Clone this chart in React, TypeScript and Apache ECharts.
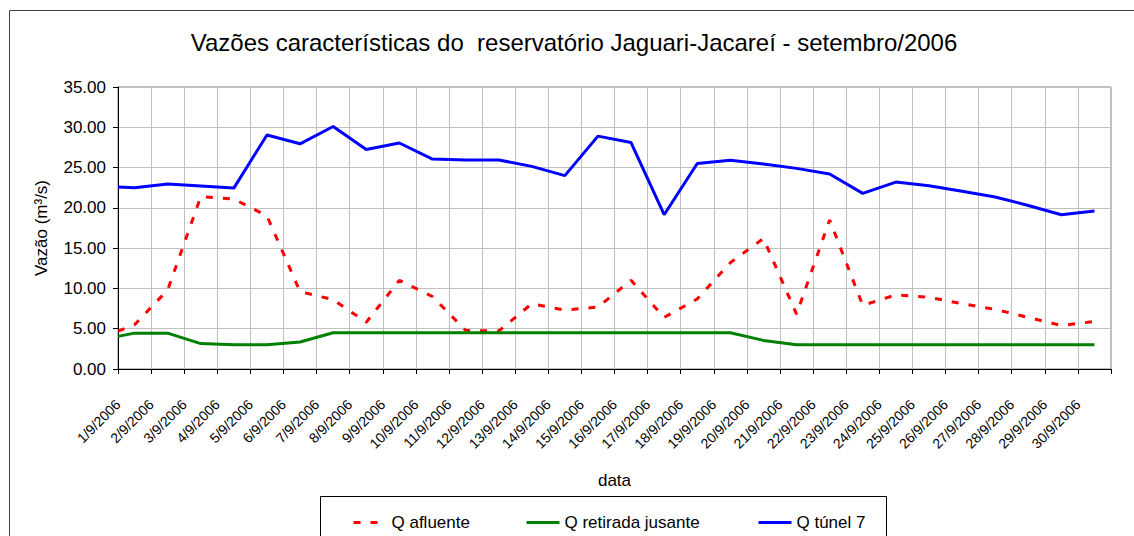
import React, { useEffect, useRef } from "react";
import * as echarts from "echarts";

const titleText = "Vazões características do  reservatório Jaguari-Jacareí - setembro/2006";
const dateLabels = [
  "1/9/2006", "2/9/2006", "3/9/2006", "4/9/2006", "5/9/2006", "6/9/2006", "7/9/2006", "8/9/2006",
  "9/9/2006", "10/9/2006", "11/9/2006", "12/9/2006", "13/9/2006", "14/9/2006", "15/9/2006",
  "16/9/2006", "17/9/2006", "18/9/2006", "19/9/2006", "20/9/2006", "21/9/2006", "22/9/2006",
  "23/9/2006", "24/9/2006", "25/9/2006", "26/9/2006", "27/9/2006", "28/9/2006", "29/9/2006",
  "30/9/2006",
];
// sample times in days from 1/9/2006 00:00
const sampleDay = [
  0, 0.5, 1.5, 2.5, 3.5, 4.5, 5.5, 6.5, 7.5, 8.5, 9.5, 10.5, 11.5, 12.5, 13.5, 14.5,
  15.5, 16.5, 17.5, 18.5, 19.5, 20.5, 21.5, 22.5, 23.5, 24.5, 25.5, 26.5, 27.5, 28.5, 29.5,
];
const qAfluente = [
  4.7, 5.5, 9.8, 21.4, 21.1, 19.0, 9.6, 8.6, 5.8, 11.0, 9.0, 4.8, 4.7, 8.1, 7.3, 7.7,
  11.0, 6.4, 8.7, 13.2, 16.2, 6.8, 18.5, 7.9, 9.2, 8.9, 8.1, 7.4, 6.4, 5.4, 5.9,
];
const qRetirada = [
  4.05, 4.45, 4.45, 3.15, 3.0, 3.0, 3.35, 4.5, 4.5, 4.5, 4.5, 4.5, 4.5, 4.5, 4.5, 4.5,
  4.5, 4.5, 4.5, 4.5, 3.55, 3.0, 3.0, 3.0, 3.0, 3.0, 3.0, 3.0, 3.0, 3.0, 3.0,
];
const qTunel = [
  22.6, 22.5, 22.95, 22.7, 22.45, 29.05, 27.95, 30.1, 27.25, 28.05, 26.05, 25.95, 25.95,
  25.15, 24.0, 28.9, 28.1, 19.15, 25.5, 25.9, 25.45, 24.9, 24.2, 21.8, 23.2, 22.75, 22.05,
  21.35, 20.3, 19.15, 19.6,
];
const seriesNames = ["Q afluente", "Q retirada jusante", "Q túnel 7"];
const seriesColors = ["#FF0000", "#008000", "#0000FF"];

const FONT = "'Liberation Sans', Arial, sans-serif";

export default function App() {
  const ref = useRef<HTMLDivElement>(null);
  useEffect(() => {
    if (!ref.current) return;
    const chart = echarts.init(ref.current, null, { renderer: "svg" });
    const values = [qAfluente, qRetirada, qTunel];
    const legendLefts = [347, 520, 752];
    chart.setOption({
      animation: false,
      textStyle: { fontFamily: FONT, color: "#000" },
      graphic: [
        {
          type: "rect",
          shape: { x: 9.5, y: 10.5, width: 1200, height: 600 },
          style: { fill: "none", stroke: "#404040", lineWidth: 1 },
          silent: true,
        },
        {
          type: "text",
          x: 574,
          y: 42,
          style: {
            text: titleText,
            fontSize: 24,
            fontFamily: FONT,
            fill: "#000",
            textAlign: "center",
            textVerticalAlign: "middle",
          },
        },
        {
          type: "rect",
          shape: { x: 320.5, y: 496.5, width: 566, height: 40 },
          style: { fill: "#fff", stroke: "#000", lineWidth: 1 },
          silent: true,
          z: -1,
        },
      ],
      legend: seriesNames.map((n, i) => ({
        data: [n],
        left: legendLefts[i],
        top: 509,
        itemWidth: 33,
        itemHeight: 14,
        itemStyle: { opacity: 0 },
        lineStyle: { width: 3 },
        textStyle: { fontSize: 17, fontFamily: FONT, color: "#000" },
        z: 10,
      })),
      grid: {
        left: 118,
        right: 23,
        top: 87,
        bottom: 167,
        show: true,
        borderColor: "#808080",
        borderWidth: 1,
        backgroundColor: "transparent",
      },
      xAxis: {
        type: "value",
        min: 0,
        max: 30,
        interval: 1,
        name: "data",
        nameLocation: "middle",
        nameGap: 103,
        nameTextStyle: { fontSize: 17, fontFamily: FONT, color: "#000" },
        axisLine: { show: true, lineStyle: { color: "#000", width: 1 } },
        axisTick: { show: true, length: 5, lineStyle: { color: "#000" } },
        splitLine: { show: true, lineStyle: { color: "#C0C0C0", width: 1 } },
        axisLabel: {
          rotate: 45,
          fontSize: 14,
          margin: 33,
          color: "#000",
          fontFamily: FONT,
          showMaxLabel: true,
          showMinLabel: true,
          formatter: (v: number) => dateLabels[Math.round(v)] ?? "",
        },
      },
      yAxis: {
        type: "value",
        min: 0,
        max: 35,
        interval: 5,
        name: "Vazão (m³/s)",
        nameLocation: "middle",
        nameGap: 68,
        nameTextStyle: { fontSize: 17, fontFamily: FONT, color: "#000" },
        axisLine: { show: true, lineStyle: { color: "#000", width: 1 } },
        axisTick: { show: true, length: 5, lineStyle: { color: "#000" } },
        splitLine: { show: true, lineStyle: { color: "#C0C0C0", width: 1 } },
        axisLabel: {
          fontSize: 17,
          margin: 12,
          color: "#000",
          fontFamily: FONT,
          formatter: (v: number) => v.toFixed(2),
        },
      },
      series: seriesNames.map((n, i) => ({
        name: n,
        type: "line",
        symbol: "none",
        data: sampleDay.map((d, k) => [d, values[i][k]]),
        lineStyle: {
          color: seriesColors[i],
          width: 3,
          type: i === 0 ? [7, 10] : "solid",
        },
        itemStyle: { color: seriesColors[i] },
      })),
    });
    return () => chart.dispose();
  }, []);
  return (
    <div
      ref={ref}
      style={{ position: "fixed", left: 0, top: 0, width: 1134, height: 536, background: "#fff" }}
    />
  );
}
